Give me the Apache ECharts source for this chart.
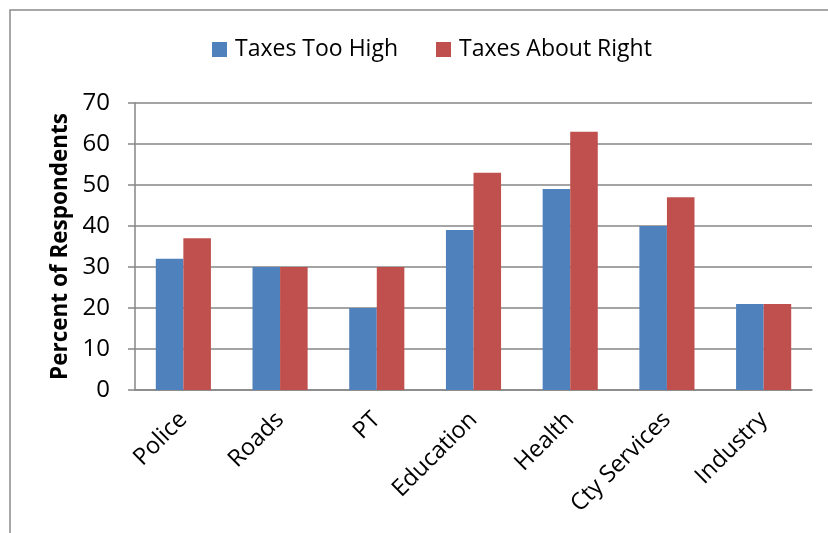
<!DOCTYPE html>
<html>
<head>
<meta charset="utf-8">
<script src="https://cdn.jsdelivr.net/npm/echarts@6/dist/echarts.min.js"></script>
<style>
  html, body { margin: 0; padding: 0; background: #fff; }
  #chart { width: 828px; height: 533px; }
</style>
</head>
<body>
<div id="chart"></div>
<script>
const categories = ['Police', 'Roads', 'PT', 'Education', 'Health', 'Cty Services', 'Industry'];
const taxesTooHigh = [32, 30, 20, 39, 49, 40, 21];
const taxesAboutRight = [37, 30, 30, 53, 63, 47, 21];
const yTicks = [0, 10, 20, 30, 40, 50, 60, 70];

const chart = echarts.init(document.getElementById('chart'));
const font = '"Open Sans", Lato, sans-serif';

chart.setOption({
  animation: false,
  textStyle: { fontFamily: font },
  graphic: [{
    type: 'rect',
    shape: { x: 10, y: 10, width: 840, height: 560 },
    style: { fill: 'none', stroke: '#8a8a8a', lineWidth: 1.5 }
  }],
  legend: {
    top: 38,
    left: 212,
    padding: 0,
    itemWidth: 15,
    itemHeight: 15,
    itemGap: 38,
    icon: 'rect',
    textStyle: { fontSize: 23, color: '#000', fontFamily: font, padding: [0, 0, 0, 3] }
  },
  grid: { left: 135, right: 16, top: 103, bottom: 143 },
  xAxis: {
    type: 'category',
    data: categories,
    axisLine: { lineStyle: { color: '#868686', width: 1.5 } },
    axisTick: { length: 8, lineStyle: { color: '#868686', width: 1.5 } },
    axisLabel: { rotate: 45, fontSize: 23.5, color: '#000', margin: 26, fontFamily: font }
  },
  yAxis: {
    type: 'value',
    min: yTicks[0],
    max: yTicks[yTicks.length - 1],
    interval: 10,
    name: 'Percent of Respondents',
    nameLocation: 'middle',
    nameGap: 62,
    nameTextStyle: { fontSize: 22.5, fontWeight: 'bold', color: '#000', fontFamily: font },
    axisLine: { show: true, lineStyle: { color: '#868686', width: 1.5 } },
    axisTick: { show: true, length: 7, lineStyle: { color: '#868686', width: 1.5 } },
    axisLabel: { fontSize: 24, color: '#000', margin: 25, fontFamily: font },
    splitLine: { lineStyle: { color: '#868686', width: 1.5 } }
  },
  series: [
    {
      name: 'Taxes Too High',
      type: 'bar',
      data: taxesTooHigh,
      barGap: '0%',
      barCategoryGap: '43%',
      itemStyle: { color: '#4f81bd' }
    },
    {
      name: 'Taxes About Right',
      type: 'bar',
      data: taxesAboutRight,
      itemStyle: { color: '#c0504d' }
    }
  ]
});
</script>
</body>
</html>
